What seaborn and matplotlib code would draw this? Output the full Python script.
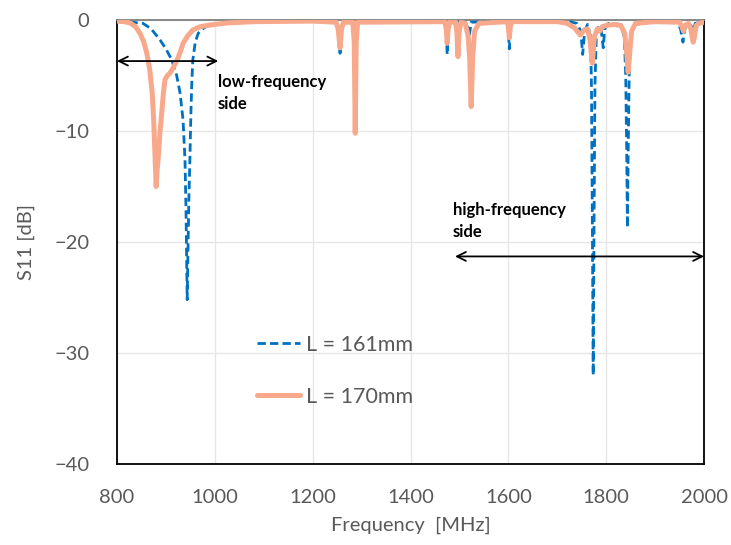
import matplotlib
matplotlib.use("Agg")
import matplotlib.pyplot as plt
import seaborn as sns
import pandas as pd

# ---- data ----
freq_161 = [800, 830, 853, 870, 888, 900, 912, 922, 929, 935, 939, 941, 942.5, 943.5, 945, 947, 949, 951, 953, 955,
            960, 966, 978, 990, 1017, 1060, 1200, 1250, 1254, 1256, 1258, 1262, 1285, 1470, 1473, 1475, 1477, 1480,
            1515, 1520, 1524, 1598, 1600, 1602, 1604, 1607, 1720, 1740, 1748, 1752, 1756, 1762, 1768, 1770, 1772,
            1773.5, 1775, 1777, 1780, 1785, 1790, 1794, 1797, 1805, 1830, 1837, 1840, 1842, 1843.5, 1845, 1847, 1850,
            1858, 1900, 1945, 1952, 1957, 1961, 1968, 1975, 1978, 1982, 2000]
s11_161 = [-0.15, -0.2, -0.3, -0.8, -1.8, -2.6, -3.6, -5.0, -6.6, -9.0, -12.6, -17, -22, -25.2, -21, -16, -12.6, -8.5, -5.5, -3.6,
           -2.0, -1.2, -0.7, -0.45, -0.27, -0.15, -0.1, -0.2, -1.0, -3.0, -1.0, -0.2, -0.1, -0.1, -1.0, -3.1, -1.0, -0.15,
           -0.2, -1.5, -0.2, -0.1, -1.0, -2.6, -1.0, -0.1, -0.1, -0.3, -1.0, -3.1, -1.0, -0.4, -1.5, -6, -20,
           -32, -20, -6, -1.2, -0.5, -1.0, -2.5, -0.8, -0.3, -0.4, -1.5, -5, -12, -18.7, -12, -5, -1.5,
           -0.4, -0.15, -0.2, -0.8, -2.0, -0.8, -0.3, -0.6, -1.0, -0.3, -0.15]

freq_170 = [800, 815, 827, 838, 847, 855, 861, 867, 872, 875, 878, 880, 882, 884, 888, 892, 895, 898, 903, 908, 915, 923,
            930, 935, 945, 955, 970, 990, 1025, 1080, 1200, 1248, 1252, 1256, 1259, 1263, 1282, 1285, 1287, 1289, 1292,
            1470, 1473, 1475, 1477, 1480, 1492, 1495, 1497, 1499, 1503, 1512, 1518, 1521, 1524, 1527, 1531, 1540,
            1598, 1600, 1602, 1604, 1607, 1700, 1720, 1735, 1747, 1755, 1762, 1767, 1770, 1771.5, 1773, 1776, 1782,
            1787, 1792, 1800, 1815, 1830, 1838, 1842, 1845, 1848, 1852, 1860, 1900, 1950, 1955, 1958, 1961, 1968,
            1973, 1976, 1978, 1980, 1984, 1990, 2000]
s11_170 = [-0.1, -0.15, -0.27, -0.6, -1.2, -2.0, -3.0, -4.5, -6.6, -9.0, -12.6, -15, -13.5, -12.6, -10, -8.1, -6.5, -5.4, -5.0, -4.8, -4.3, -3.6,
           -2.8, -2.1, -1.4, -0.9, -0.6, -0.45, -0.27, -0.15, -0.1, -0.2, -0.8, -2.5, -0.8, -0.2, -0.2, -2, -10.2, -2, -0.2,
           -0.15, -0.8, -2.1, -0.8, -0.2, -0.2, -1.2, -3.3, -1.2, -0.2, -0.3, -1.5, -3.5, -7.8, -3.5, -1.0, -0.3,
           -0.15, -0.6, -1.6, -0.6, -0.15, -0.15, -0.3, -0.7, -1.35, -0.9, -0.8, -1.8, -3.2, -3.9, -3.2, -1.5, -0.8,
           -1.0, -0.6, -0.5, -0.4, -0.5, -1.2, -3, -4.7, -3, -1.0, -0.3, -0.15, -0.2, -0.6, -1.0, -0.5, -0.3,
           -0.8, -1.6, -2.0, -1.6, -0.5, -0.3, -0.2]

series_labels = ["L = 161mm", "L = 170mm"]
x_ticks = [800, 1000, 1200, 1400, 1600, 1800, 2000]
y_ticks = [0, -10, -20, -30, -40]

sns.set_theme(style="white")
plt.rcParams["font.family"] = ["Lato", "DejaVu Sans"]

gray = "#595959"
blue = "#0070C0"
orange = "#F9A98B"

fig = plt.figure(figsize=(7.31, 5.45), dpi=100)
ax = fig.add_axes([117/731, 1 - 464/545, (704-117)/731, (464-20)/545])

ax.grid(True, color="#E6E6E6", linewidth=1.0)
ax.set_axisbelow(True)

df161 = pd.DataFrame({"f": freq_161, "s": s11_161})
df170 = pd.DataFrame({"f": freq_170, "s": s11_170})
sns.lineplot(data=df161, x="f", y="s", ax=ax, color=blue, linewidth=2.0,
             dashes=False, label=series_labels[0], linestyle=(0, (3, 1.5)), zorder=3)
sns.lineplot(data=df170, x="f", y="s", ax=ax, color=orange, linewidth=3.6,
             label=series_labels[1], zorder=4, solid_capstyle="round")

ax.set_xlim(800, 2000)
ax.set_ylim(-40, 0)
ax.set_xticks(x_ticks)
ax.set_yticks(y_ticks)
ax.set_xticklabels([str(t) for t in x_ticks])
ax.set_yticklabels([str(t).replace("-", "\u2212") for t in y_ticks])
ax.tick_params(axis="both", length=0, labelsize=14.5, labelcolor=gray)
ax.tick_params(axis="x", pad=18)
ax.tick_params(axis="y", pad=20)

ax.set_xlabel("Frequency  [MHz]", fontsize=14.5, color=gray, labelpad=8)
ax.set_ylabel("S11 [dB]", fontsize=14.5, color=gray, labelpad=14)

for side in ["left", "bottom", "right"]:
    ax.spines[side].set_color("black")
    ax.spines[side].set_linewidth(1.3)
    ax.spines[side].set_visible(True)
ax.spines["top"].set_color("#808080")
ax.spines["top"].set_linewidth(1.3)
ax.spines["top"].set_visible(True)

leg = ax.legend(loc="center left", bbox_to_anchor=(0.238, 0.21), frameon=False,
                fontsize=15.5, handlelength=2.0, handletextpad=0.3, labelspacing=1.5,
                borderpad=0, borderaxespad=0)
for t in leg.get_texts():
    t.set_color(gray)

# annotations
ax.annotate("", xy=(800, -3.7), xytext=(1007, -3.7),
            arrowprops=dict(arrowstyle="<->", color="black", lw=1.3, mutation_scale=16,
                            shrinkA=0, shrinkB=0), zorder=5)
ax.text(1006, -6.6, "low-frequency\nside", fontsize=12, fontweight="bold", color="black",
        va="center", ha="left", linespacing=1.45, zorder=5)
ax.annotate("", xy=(1491, -21.3), xytext=(2000, -21.3),
            arrowprops=dict(arrowstyle="<->", color="black", lw=1.3, mutation_scale=16,
                            shrinkA=0, shrinkB=0), zorder=5)
ax.text(1487, -18.1, "high-frequency\nside", fontsize=12, fontweight="bold", color="black",
        va="center", ha="left", linespacing=1.45, zorder=5)

fig.savefig("out.png", dpi=100)
